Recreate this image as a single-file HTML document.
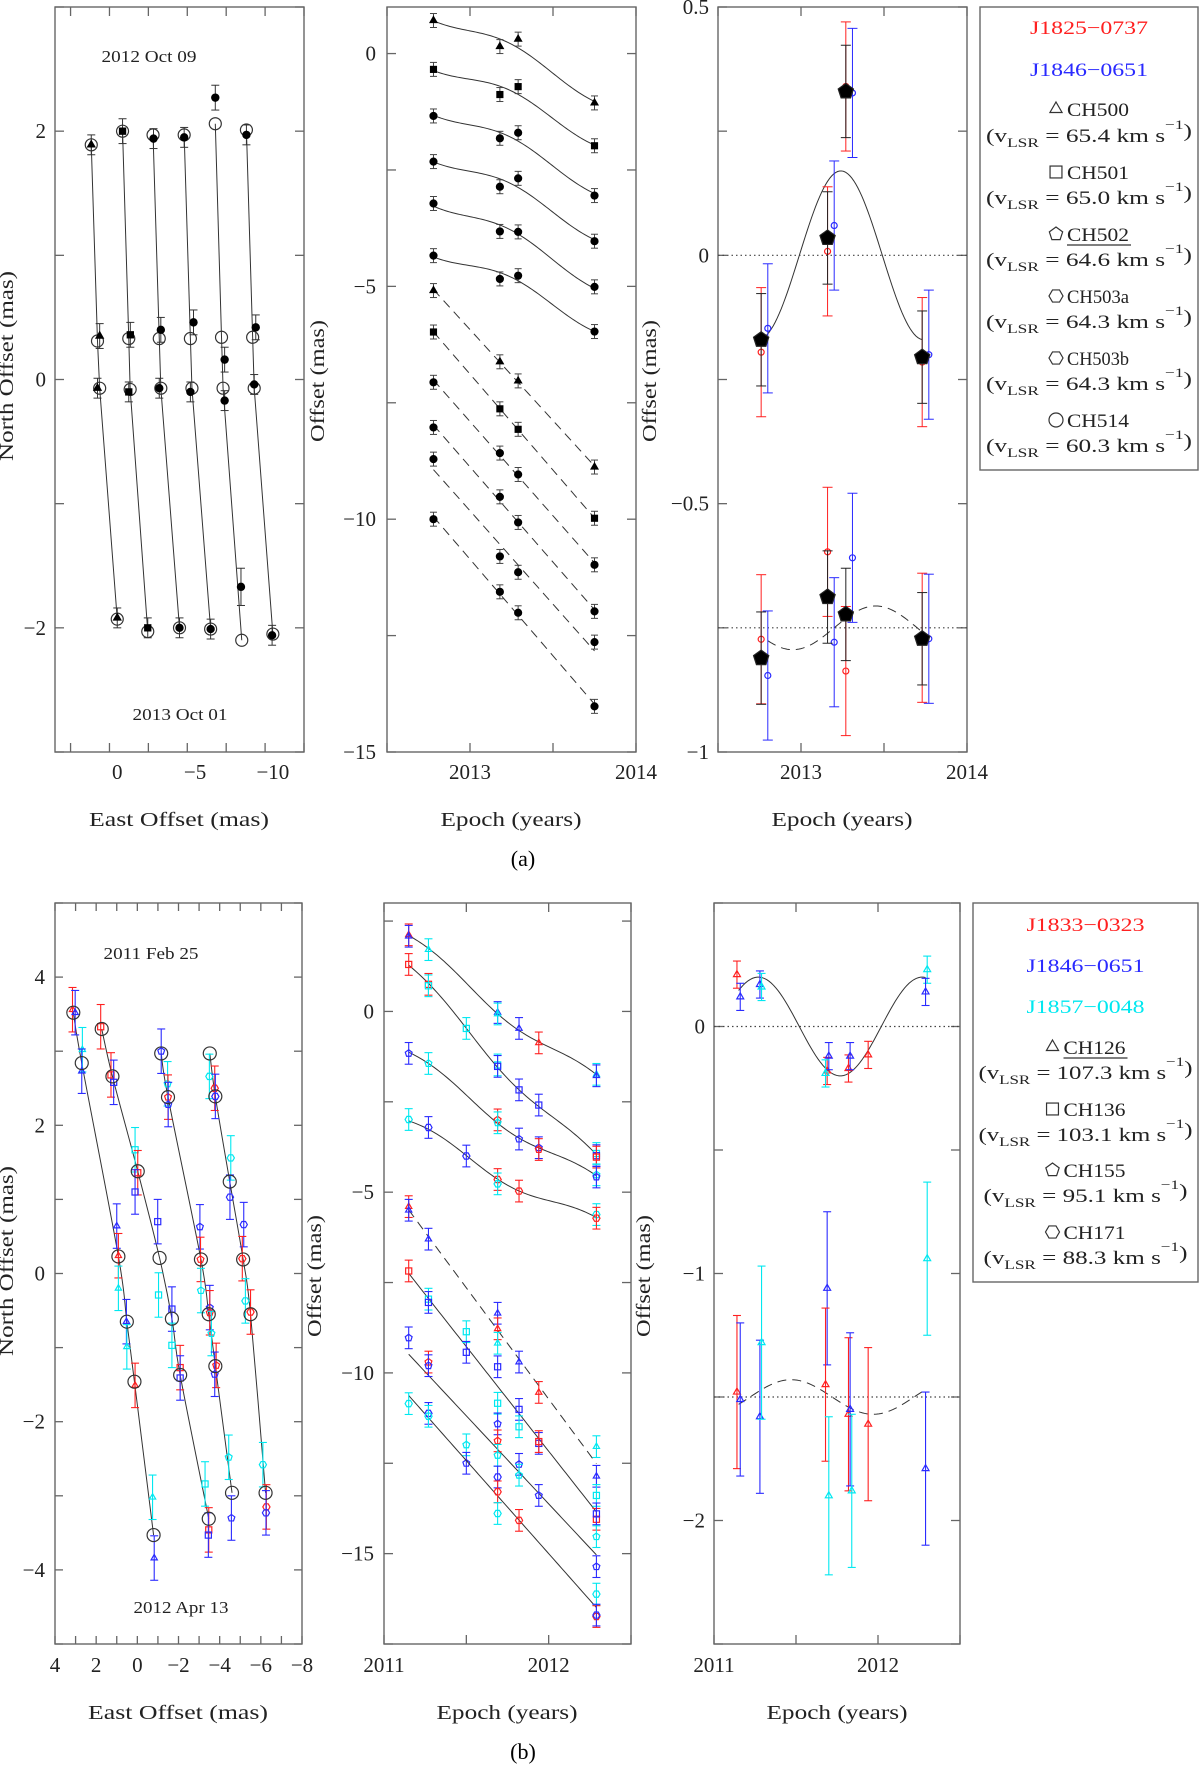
<!DOCTYPE html>
<html><head><meta charset="utf-8"><style>
html,body{margin:0;padding:0;background:#fff;}
svg{display:block;font-family:"Liberation Serif","DejaVu Serif",serif;}
</style></head><body>
<svg id="fig" width="1200" height="1773" viewBox="0 0 1200 1773" xmlns="http://www.w3.org/2000/svg"></svg>
<script>
// ---------------- DATA: top (a) panel 1 (sky positions) ----------------
const a1ModelX=[[1.67,1.27,1.13,0],[-0.34,-0.74,-0.83,-1.96],[-2.3,-2.7,-2.8,-4.0],[-4.3,-4.7,-4.8,-6.0],[-6.3,-6.7,-6.8,-8.0],[-8.3,-8.7,-8.8,-10.0]];
const a1ModelY=[[1.89,0.31,-0.07,-1.93],[2.0,0.33,-0.08,-2.03],[1.97,0.33,-0.07,-2.0],[1.97,0.33,-0.07,-2.01],[2.06,0.34,-0.07,-2.1],[2.01,0.34,-0.07,-2.05]];
const a1DataX=[[1.67,1.13,1.27,0.0],[-0.34,-0.84,-0.74,-1.96],[-2.33,-2.8,-2.7,-4.0],[-4.3,-4.9,-4.7,-6.0],[-6.3,-6.9,-6.9,-7.95],[-8.3,-8.9,-8.8,-9.95]];
const a1DataY=[[1.89,0.35,-0.07,-1.92],[2.0,0.36,-0.1,-2.0],[1.94,0.40,-0.07,-2.0],[1.95,0.46,-0.1,-2.01],[2.27,0.16,-0.17,-1.67],[1.97,0.42,-0.04,-2.06]];
const a1Err=[[0.08,0.1,0.08,0.08],[0.1,0.1,0.08,0.08],[0.08,0.1,0.08,0.08],[0.08,0.1,0.08,0.08],[0.1,0.1,0.08,0.15],[0.08,0.1,0.08,0.08]];
const a1Shape=["tri","sq","circ","circ","circ","circ"];
// ---------------- top panel 2 ----------------
const a2Epochs=[2012.78,2013.18,2013.29,2013.75];
const a2Vals=[[0.71,0.15,0.31,-1.06],[-0.34,-0.88,-0.71,-1.98],[-1.34,-1.82,-1.70,-3.05],[-2.32,-2.86,-2.68,-4.03],[-3.22,-3.82,-3.83,-5.01],[-4.34,-4.84,-4.77,-5.97],
 [-5.09,-6.62,-7.03,-8.88],[-5.98,-7.63,-8.07,-9.98],[-7.06,-8.58,-9.04,-10.98],[-8.03,-9.52,-10.07,-11.98],[-8.71,-10.80,-11.14,-12.64],[-10.0,-11.56,-12.01,-14.02]];
const a2Shape=["tri","sq","circ","circ","circ","circ","tri","sq","circ","circ","circ","circ"];
const a2Solid=[1,1,1,1,1,1,0,0,0,0,0,0];
// ---------------- top panel 3 (residuals) ----------------
const a3Epochs=[2012.76,2013.16,2013.27,2013.73];
const a3BlackUp=[-0.17,0.035,0.33,-0.205];
const a3RedUp=[-0.195,0.008,0.34,-0.215];
const a3BlueUp=[-0.147,0.06,0.327,-0.2];
const a3BlackLo=[-0.811,-0.688,-0.723,-0.772];
const a3RedLo=[-0.773,-0.597,-0.837,-0.77];
const a3BlueLo=[-0.846,-0.779,-0.609,-0.772];
const a3ErrBlack=0.093, a3ErrColor=0.13;
const a3ParAmp=0.17, a3ParPeak=2013.24;
const a3LoBase=-0.75, a3LoAmp=0.044, a3LoPeak=2013.45;
// ---------------- bottom (b) panel 1 ----------------
const b1ModelX=[[3.11,2.70,0.92,0.51,0.14,-0.79],[1.73,1.21,-0.02,-1.08,-1.68,-2.08,-3.47],[-1.16,-1.49,-3.09,-3.47,-3.79,-4.6],[-3.52,-3.79,-4.49,-5.14,-5.5,-6.23]];
const b1ModelY=[[3.52,2.84,0.23,-0.65,-1.46,-3.53],[3.30,2.66,1.38,0.21,-0.61,-1.37,-3.31],[2.97,2.38,0.19,-0.55,-1.25,-2.96],[2.97,2.39,1.24,0.19,-0.55,-2.96]];
const b1DataX=[[3.15,3.02,2.67,2.70,1.0,0.92,0.92,0.53,0.51,0.11,-0.74,-0.82],[1.78,1.28,1.15,0.11,-0.02,0.11,-0.99,-1.03,-1.68,-1.68,-2.08,-2.08,-3.29,-3.47,-3.45],[-1.16,-1.47,-1.49,-1.5,-3.04,-3.07,-3.09,-3.52,-3.52,-3.6,-3.83,-3.76,-4.44,-4.57],[-3.5,-3.76,-3.79,-4.54,-4.5,-5.17,-5.1,-5.25,-5.5,-6.1,-6.27,-6.25]];
const b1DataY=[[3.56,3.52,3.02,2.73,0.64,0.24,-0.2,-0.65,-0.99,-1.51,-3.02,-3.84],[3.33,2.68,2.58,1.67,1.36,1.10,0.70,-0.29,-0.48,-0.97,-1.27,-1.41,-2.84,-3.46,-3.53],[3.00,2.56,2.38,2.28,0.63,0.19,-0.23,-0.46,-0.53,-0.81,-1.24,-1.36,-2.48,-3.30],[2.66,2.5,2.39,1.56,1.03,0.66,0.2,-0.37,-0.52,-2.58,-3.15,-3.23]];
const b1DataC=[["r","b","c","b","b","r","c","b","c","r","c","b"],["r","r","b","c","r","b","b","c","b","c","r","b","c","r","b"],["b","c","r","b","b","r","c","b","r","c","r","b","c","b"],["c","r","b","c","b","b","r","c","r","c","r","b"]];
const b1Shape=["tri","sq","pent","hex"];
// ---------------- bottom panel 2 ----------------
const b2E=[[2011.15,2011.15,2011.27,2011.69,2011.69,2011.82,2011.94,2012.29,2012.29],
 [2011.15,2011.27,2011.27,2011.5,2011.69,2011.69,2011.82,2011.94,2012.29,2012.29,2012.29],
 [2011.15,2011.27,2011.69,2011.69,2011.82,2011.94,2011.94,2012.29,2012.29],
 [2011.15,2011.27,2011.5,2011.69,2011.69,2011.82,2012.29,2012.29],
 [2011.15,2011.15,2011.27,2011.69,2011.69,2011.69,2011.82,2011.94,2012.29,2012.29],
 [2011.15,2011.27,2011.27,2011.5,2011.5,2011.69,2011.69,2011.82,2011.82,2011.94,2011.94,2012.29,2012.29,2012.29],
 [2011.15,2011.27,2011.27,2011.5,2011.5,2011.69,2011.69,2011.69,2011.82,2011.82,2011.94,2012.29,2012.29],
 [2011.15,2011.27,2011.27,2011.69,2011.69,2011.69,2011.82,2012.29,2012.29,2012.29]];
const b2V=[[2.12,2.08,1.71,-0.03,-0.07,-0.47,-0.87,-1.74,-1.78],
 [1.30,0.75,0.71,-0.47,-1.48,-1.52,-2.17,-2.59,-3.93,-3.99,-4.03],
 [-1.16,-1.44,-3.0,-3.08,-3.53,-3.77,-3.82,-4.52,-4.58],
 [-2.99,-3.21,-4.0,-4.65,-4.77,-4.97,-5.62,-5.72],
 [-5.4,-5.5,-6.3,-8.35,-8.78,-9.18,-9.70,-10.54,-12.04,-12.86],
 [-7.18,-7.96,-8.05,-8.86,-9.43,-9.83,-10.84,-11.01,-11.49,-11.95,-11.9,-13.39,-14.05,-13.9],
 [-9.03,-9.7,-9.8,-11.99,-12.5,-11.41,-11.88,-12.28,-12.53,-12.83,-13.39,-14.53,-15.36],
 [-10.85,-11.12,-11.2,-12.88,-13.29,-13.89,-14.08,-16.12,-16.74,-16.7]];
const b2C=[["r","b","c","b","c","b","r","c","b"],
 ["r","r","c","c","c","b","b","b","c","b","r"],
 ["b","c","r","c","b","b","r","c","b"],
 ["c","b","b","r","c","r","c","r"],
 ["r","b","b","b","r","c","b","r","c","b"],
 ["r","c","b","c","b","b","c","b","c","b","r","c","r","b"],
 ["b","r","b","c","b","b","r","c","b","c","b","c","b"],
 ["c","b","c","b","r","c","r","c","r","b"]];
const b2Shape=["tri","sq","pent","hex","tri","sq","pent","hex"];
const b2Style=["par","par","par","par","dash","lin","lin","lin"];
const b2ParAmp=0.2, b2ParPeak=2011.27;
// ---------------- bottom panel 3 ----------------
const b3UpE=[2011.14,2011.16,2011.28,2011.29,2011.69,2011.70,2011.68,2011.82,2011.83,2011.94,2012.30,2012.29];
const b3UpV=[0.21,0.12,0.17,0.16,-0.18,-0.12,-0.19,-0.17,-0.12,-0.115,0.23,0.14];
const b3UpC=["r","b","b","c","r","b","c","r","b","r","c","b"];
const b3LoE=[2011.14,2011.16,2011.28,2011.29,2011.69,2011.68,2011.70,2011.82,2011.83,2011.84,2011.94,2012.30,2012.29];
const b3LoV=[-1.48,-1.51,-1.58,-1.28,-1.06,-1.45,-1.90,-1.57,-1.55,-1.88,-1.61,-0.94,-1.79];
const b3LoErr=[0.31,0.31,0.31,0.31,0.31,0.31,0.32,0.31,0.31,0.31,0.31,0.31,0.31];
const b3LoC=["r","b","b","c","b","r","c","r","b","c","r","c","b"];
const b3ParAmp=0.2, b3ParPeak=2011.27, b3LoBase=-1.5, b3LoAmp=0.07, b3LoPeak=2011.47;

// ---------------- helpers ----------------
const NS="http://www.w3.org/2000/svg";
const svg=document.getElementById("fig");
const COL={r:"#ff2020",b:"#2a2aff",c:"#00e8f0",k:"#000"};
const AX="#666";
function mk(tag,attrs,name,parent){
  const el=document.createElementNS(NS,tag);
  for(const k in attrs) el.setAttribute(k,attrs[k]);
  
  
  (parent||svg).appendChild(el);return el;
}
function txt(x,y,s,size,name,opts){
  opts=opts||{};
  const t=mk("text",{x:x,y:y,"font-size":size,fill:opts.fill||"#222","text-anchor":opts.anchor||"middle"},name,opts.parent);
  if(opts.len){t.setAttribute("textLength",opts.len);t.setAttribute("lengthAdjust","spacingAndGlyphs");}
  if(opts.rot) t.setAttribute("transform","rotate(-90 "+x+" "+y+")");
  t.textContent=s;return t;
}
function panel(name,x0,y0,x1,y1,xd,yd){
  const g=mk("g",{},name);
  const p={g,x0,y0,x1,y1,
    sx:v=>x0+(v-xd[0])/(xd[1]-xd[0])*(x1-x0),
    sy:v=>y0+(v-yd[0])/(yd[1]-yd[0])*(y1-y0)};
  mk("rect",{x:x0,y:y0,width:x1-x0,height:y1-y0,fill:"none",stroke:AX,"stroke-width":1.4},"plot-frame",g);
  return p;
}
function ticks(p,axis,lo,hi,step,len){
  const n=Math.round((hi-lo)/step);
  for(let i=0;i<=n;i++){
    const v=lo+i*step;
    if(axis==="x"){const x=p.sx(v); if(x<p.x0-0.5||x>p.x1+0.5) continue;
      mk("line",{x1:x,y1:p.y1,x2:x,y2:p.y1-len,stroke:AX,"stroke-width":1.3},"x-tick",p.g);
      mk("line",{x1:x,y1:p.y0,x2:x,y2:p.y0+len,stroke:AX,"stroke-width":1.3},"x-tick-top",p.g);}
    else{const y=p.sy(v); if(y<p.y0-0.5||y>p.y1+0.5) continue;
      mk("line",{x1:p.x0,y1:y,x2:p.x0+len,y2:y,stroke:AX,"stroke-width":1.3},"y-tick",p.g);
      mk("line",{x1:p.x1,y1:y,x2:p.x1-len,y2:y,stroke:AX,"stroke-width":1.3},"y-tick-right",p.g);}
  }
}
function lab(v){return (v<0?"\u2212":"")+String(Math.abs(v));}
function xLabels(p,vals,y){vals.forEach(v=>txt(p.sx(v),y,lab(v),21,"x-tick-label",{parent:p.g}));}
function yLabels(p,vals,xr){vals.forEach(v=>txt(xr,p.sy(v)+7,lab(v),21,"y-tick-label",{parent:p.g,anchor:"end"}));}
function marker(g,shape,cx,cy,r,fill,stroke,name){
  if(shape==="circ") return mk("circle",{cx,cy,r,fill,stroke,"stroke-width":1.2},name,g);
  if(shape==="sq") return mk("rect",{x:cx-r*0.85,y:cy-r*0.85,width:r*1.7,height:r*1.7,fill,stroke,"stroke-width":1.2},name,g);
  const n=shape==="tri"?3:shape==="pent"?5:6, a0=shape==="hex"?0:-Math.PI/2;
  const pts=[];for(let i=0;i<n;i++){const a=a0+i*2*Math.PI/n;pts.push((cx+r*Math.cos(a)).toFixed(2)+","+(cy+r*Math.sin(a)).toFixed(2));}
  return mk("polygon",{points:pts.join(" "),fill,stroke,"stroke-width":1.2},name,g);
}
function ebar(g,x,ya,yb,cap,col,w){
  mk("line",{x1:x,y1:ya,x2:x,y2:yb,stroke:col,"stroke-width":w||1.2},"error-bar",g);
  mk("line",{x1:x-cap,y1:ya,x2:x+cap,y2:ya,stroke:col,"stroke-width":w||1.2},"error-cap",g);
  mk("line",{x1:x-cap,y1:yb,x2:x+cap,y2:yb,stroke:col,"stroke-width":w||1.2},"error-cap",g);
}
function crPath(pts){
  let d="M"+pts[0][0].toFixed(2)+","+pts[0][1].toFixed(2);
  for(let i=0;i<pts.length-1;i++){
    const p0=pts[i-1]||pts[i],p1=pts[i],p2=pts[i+1],p3=pts[i+2]||p2;
    const c1=[p1[0]+(p2[0]-p0[0])/6,p1[1]+(p2[1]-p0[1])/6],c2=[p2[0]-(p3[0]-p1[0])/6,p2[1]-(p3[1]-p1[1])/6];
    d+=" C"+c1.map(v=>v.toFixed(2)).join(",")+" "+c2.map(v=>v.toFixed(2)).join(",")+" "+p2[0].toFixed(2)+","+p2[1].toFixed(2);
  }
  return d;
}
function fitLine(ts,vs,par){
  const n=ts.length;let st=0,sv=0,stt=0,stv=0;
  for(let i=0;i<n;i++){const t=ts[i],v=vs[i]-(par?par(t):0);st+=t;sv+=v;stt+=t*t;stv+=t*v;}
  const b=(n*stv-st*sv)/(n*stt-st*st),a=(sv-b*st)/n;return t=>a+b*t;
}
function curvePath(p,f,t0,t1){
  let d="";for(let i=0;i<=80;i++){const t=t0+(t1-t0)*i/80;d+=(i?"L":"M")+p.sx(t).toFixed(2)+","+p.sy(f(t)).toFixed(2);}return d;
}

// ================= (a) TOP =================
// Panel a1
const A1=panel("sky-plot-a",55,7,304,752,[4,-12],[3,-3]);
ticks(A1,"x",-12,4,2.5,9);ticks(A1,"y",-3,3,1,9);
xLabels(A1,[0,-5,-10],779);yLabels(A1,[2,0,-2],46);
txt(149,62,"2012 Oct 09",17,"epoch-start-label",{parent:A1.g,len:95});
txt(180,720,"2013 Oct 01",17,"epoch-end-label",{parent:A1.g,len:95});
a1ModelX.forEach((xs,i)=>{
  const pts=xs.map((x,j)=>[A1.sx(x),A1.sy(a1ModelY[i][j])]);
  mk("polyline",{points:pts.map(q=>q.join(",")).join(" "),fill:"none",stroke:"#333","stroke-width":1},"track-line",A1.g);
  pts.forEach(q=>marker(A1.g,"circ",q[0],q[1],6,"none","#333","model-position"));
  a1DataX[i].forEach((x,j)=>{
    const cx=A1.sx(x),y=a1DataY[i][j],e=a1Err[i][j];
    ebar(A1.g,cx,A1.sy(y+e),A1.sy(y-e),4,"#333",1);
    marker(A1.g,a1Shape[i],cx,A1.sy(y),a1Shape[i]==="tri"?4.2:3.6,"#000","#000","maser-spot");
  });
});
txt(13,366,"North Offset (mas)",20,"y-axis-title",{rot:1,len:190});
txt(179,826,"East Offset (mas)",20,"x-axis-title",{len:180});

// Panel a2
const A2=panel("epoch-plot-a",387,7,636,752,[2012.5,2014],[1,-15]);
ticks(A2,"x",2012.5,2014,0.5,9);ticks(A2,"y",-15,1,2.5,9);
xLabels(A2,[2013,2014],779);yLabels(A2,[0,-5,-10,-15],376);
const parA=t=>a3ParAmp*Math.cos(2*Math.PI*(t-a3ParPeak));
a2Vals.forEach((vs,i)=>{
  const f=a2Solid[i]?(()=>{const L=fitLine(a2Epochs,vs,parA);return t=>L(t)+parA(t);})():fitLine(a2Epochs,vs,null);
  const path=mk("path",{d:curvePath(A2,f,a2Epochs[0],a2Epochs[3]),fill:"none",stroke:"#333","stroke-width":1},a2Solid[i]?"model-curve":"model-line-dashed",A2.g);
  if(!a2Solid[i]) path.setAttribute("stroke-dasharray","9,6");
  vs.forEach((v,j)=>{
    const cx=A2.sx(a2Epochs[j]);
    ebar(A2.g,cx,A2.sy(v+0.15),A2.sy(v-0.15),3.5,"#444",1);
    marker(A2.g,a2Shape[i],cx,A2.sy(v),a2Shape[i]==="tri"?4:3.5,"#000","#000","spot-offset");
  });
});
txt(324,381,"Offset (mas)",20,"y-axis-title",{rot:1,len:122});
txt(511,826,"Epoch (years)",20,"x-axis-title",{len:141});

// Panel a3
const A3=panel("residual-plot-a",718,7,967,752,[2012.5,2014],[0.5,-1]);
ticks(A3,"x",2012.5,2014,0.5,9);ticks(A3,"y",-1,0.5,0.25,9);
xLabels(A3,[2013,2014],779);yLabels(A3,[0.5,0,-0.5,-1],709);
mk("line",{x1:718,x2:967,y1:A3.sy(0),y2:A3.sy(0),stroke:"#444","stroke-dasharray":"1.5,3","stroke-width":1.2},"zero-line",A3.g);
mk("line",{x1:718,x2:967,y1:A3.sy(a3LoBase),y2:A3.sy(a3LoBase),stroke:"#444","stroke-dasharray":"1.5,3","stroke-width":1.2},"offset-zero-line",A3.g);
mk("path",{d:curvePath(A3,parA,2012.76,2013.73),fill:"none",stroke:"#333","stroke-width":1},"parallax-curve",A3.g);
const lo=mk("path",{d:curvePath(A3,t=>a3LoBase+a3LoAmp*Math.cos(2*Math.PI*(t-a3LoPeak)),2012.8,2013.73),fill:"none",stroke:"#333","stroke-width":1,"stroke-dasharray":"9,6"},"parallax-curve-dashed",A3.g);
function a3Group(vals,col,dt,err,shape,r,fill){
  vals.forEach((v,j)=>{const cx=A3.sx(a3Epochs[j]+dt);
    ebar(A3.g,cx,A3.sy(v+err),A3.sy(v-err),5,col,1);
    marker(A3.g,shape,cx,A3.sy(v),r,fill,col,"residual-point");});
}
a3Group(a3RedUp,COL.r,0,a3ErrColor,"circ",3,"none");
a3Group(a3BlueUp,COL.b,0.04,a3ErrColor,"circ",3,"none");
a3Group(a3BlackUp,"#222",0,a3ErrBlack,"pent",8,"#000");
a3Group(a3RedLo,COL.r,0,a3ErrColor,"circ",3,"none");
a3Group(a3BlueLo,COL.b,0.04,a3ErrColor,"circ",3,"none");
a3Group(a3BlackLo,"#222",0,a3ErrBlack,"pent",8,"#000");
txt(656,381,"Offset (mas)",20,"y-axis-title",{rot:1,len:122});
txt(842,826,"Epoch (years)",20,"x-axis-title",{len:141});
txt(523,866,"(a)",22,"subfigure-label-a",{fill:"#000"});

// ================= (b) BOTTOM =================
const B1=panel("sky-plot-b",55,903,302,1644,[4,-8],[5,-5]);
ticks(B1,"x",-8,4,1,8);ticks(B1,"y",-5,5,1,8);
xLabels(B1,[4,2,0,-2,-4,-6,-8],1672);yLabels(B1,[4,2,0,-2,-4],45);
txt(151,959,"2011 Feb 25",17,"epoch-start-label",{parent:B1.g,len:95});
txt(181,1613,"2012 Apr 13",17,"epoch-end-label",{parent:B1.g,len:95});
b1ModelX.forEach((xs,i)=>{
  const pts=xs.map((x,j)=>[B1.sx(x),B1.sy(b1ModelY[i][j])]);
  mk("path",{d:crPath(pts),fill:"none",stroke:"#333","stroke-width":1},"track-curve",B1.g);
  b1DataX[i].forEach((x,j)=>{
    const cx=B1.sx(x),y=b1DataY[i][j],c=COL[b1DataC[i][j]];
    ebar(B1.g,cx,B1.sy(y+0.3),B1.sy(y-0.3),4,c,1.1);
    marker(B1.g,b1Shape[i],cx,B1.sy(y),3.6,"none",c,"maser-spot");
  });
  pts.forEach(q=>marker(B1.g,"circ",q[0],q[1],6.5,"none","#333","model-position"));
});
txt(13,1261,"North Offset (mas)",20,"y-axis-title",{rot:1,len:190});
txt(178,1719,"East Offset (mas)",20,"x-axis-title",{len:180});

const B2=panel("epoch-plot-b",384,903,631,1644,[2011,2012.5],[3,-17.5]);
ticks(B2,"x",2011,2012.5,0.5,9);ticks(B2,"y",-17.5,3,2.5,9);
xLabels(B2,[2011,2012],1672);yLabels(B2,[0,-5,-10,-15],374);
const parB=t=>b2ParAmp*Math.cos(2*Math.PI*(t-b2ParPeak));
b2V.forEach((vs,i)=>{
  const es=b2E[i];let f;
  if(b2Style[i]==="par"){const L=fitLine(es,vs,parB);f=t=>L(t)+parB(t);}else f=fitLine(es,vs,null);
  const path=mk("path",{d:curvePath(B2,f,2011.15,2012.29),fill:"none",stroke:"#333","stroke-width":1},"model-curve",B2.g);
  if(b2Style[i]==="dash") path.setAttribute("stroke-dasharray","9,6");
  vs.forEach((v,j)=>{
    const cx=B2.sx(es[j]),c=COL[b2C[i][j]];
    ebar(B2.g,cx,B2.sy(v+0.3),B2.sy(v-0.3),4,c,1.1);
    marker(B2.g,b2Shape[i],cx,B2.sy(v),3.6,"none",c,"spot-offset");
  });
});
txt(321,1276,"Offset (mas)",20,"y-axis-title",{rot:1,len:122});
txt(507,1719,"Epoch (years)",20,"x-axis-title",{len:141});

const B3=panel("residual-plot-b",714,903,960,1644,[2011,2012.5],[0.5,-2.5]);
ticks(B3,"x",2011,2012.5,0.5,9);ticks(B3,"y",-2.5,0.5,0.5,9);
xLabels(B3,[2011,2012],1672);yLabels(B3,[0,-1,-2],705);
mk("line",{x1:714,x2:960,y1:B3.sy(0),y2:B3.sy(0),stroke:"#444","stroke-dasharray":"1.5,3","stroke-width":1.2},"zero-line",B3.g);
mk("line",{x1:714,x2:960,y1:B3.sy(b3LoBase),y2:B3.sy(b3LoBase),stroke:"#444","stroke-dasharray":"1.5,3","stroke-width":1.2},"offset-zero-line",B3.g);
mk("path",{d:curvePath(B3,t=>b3ParAmp*Math.cos(2*Math.PI*(t-b3ParPeak)),2011.15,2012.29),fill:"none",stroke:"#333","stroke-width":1},"parallax-curve",B3.g);
mk("path",{d:curvePath(B3,t=>b3LoBase+b3LoAmp*Math.cos(2*Math.PI*(t-b3LoPeak)),2011.15,2012.29),fill:"none",stroke:"#333","stroke-width":1,"stroke-dasharray":"9,6"},"parallax-curve-dashed",B3.g);
b3UpE.forEach((t,j)=>{const cx=B3.sx(t),v=b3UpV[j],c=COL[b3UpC[j]];
  ebar(B3.g,cx,B3.sy(v+0.055),B3.sy(v-0.055),4,c,1.1);marker(B3.g,"tri",cx,B3.sy(v),4,"none",c,"residual-point");});
b3LoE.forEach((t,j)=>{const cx=B3.sx(t),v=b3LoV[j],c=COL[b3LoC[j]],e=b3LoErr[j];
  ebar(B3.g,cx,B3.sy(v+e),B3.sy(v-e),4,c,1.1);marker(B3.g,"tri",cx,B3.sy(v),4,"none",c,"residual-point");});
txt(650,1276,"Offset (mas)",20,"y-axis-title",{rot:1,len:122});
txt(837,1719,"Epoch (years)",20,"x-axis-title",{len:141});
txt(523,1759,"(b)",22,"subfigure-label-b",{fill:"#000"});

// ================= LEGENDS =================
function vlsr(g,cx,cy,val,len){
  const t=mk("text",{x:cx,y:cy+7,"font-size":19,fill:"#222","text-anchor":"middle",textLength:len,lengthAdjust:"spacingAndGlyphs"},"vlsr-label",g);
  const parts=[["(v",0],["LSR",1],[" =  "+val+"  km  s",0],["\u22121",2],[")",0]];
  parts.forEach(p=>{const s=document.createElementNS(NS,"tspan");s.textContent=p[0];
    if(p[1]===1){s.setAttribute("font-size","13");s.setAttribute("dy","5");}
    if(p[1]===2){s.setAttribute("font-size","13");s.setAttribute("dy","-13");}
    if(p[0]===" =  "+val+"  km  s"){s.setAttribute("dy","-5");}
    if(p[0]===")"){s.setAttribute("dy","8");}
    t.appendChild(s);});
}
function legend(name,x0,y0,x1,y1,srcs,chans){
  const g=mk("g",{},name);
  mk("rect",{x:x0,y:y0,width:x1-x0,height:y1-y0,fill:"#fff",stroke:AX,"stroke-width":1.4},"legend-box",g);
  const cx=(x0+x1)/2;
  srcs.forEach(s=>txt(cx,s[1]+7,s[0],19,"legend-source",{parent:g,fill:COL[s[2]],len:118}));
  chans.forEach(c=>{
    txt(cx+9,c.y+7,c.name,19,"legend-channel",{parent:g,len:62});
    marker(g,c.shape,cx-33,c.y,7,"none","#333","legend-symbol");
    if(c.ul) mk("line",{x1:cx-22,x2:cx+42,y1:c.y+11,y2:c.y+11,stroke:"#333","stroke-width":1.2},"legend-underline",g);
    vlsr(g,cx,c.vy,c.v,c.len);
  });
}
legend("legend-a",980,7,1198,470,[["J1825\u22120737",27,"r"],["J1846\u22120651",69,"b"]],[
 {name:"CH500",shape:"tri",y:109,vy:135,v:"65.4",len:206},
 {name:"CH501",shape:"sq",y:172,vy:197,v:"65.0",len:206},
 {name:"CH502",shape:"pent",y:234,vy:259,v:"64.6",len:206,ul:1},
 {name:"CH503a",shape:"hex",y:296,vy:321,v:"64.3",len:206},
 {name:"CH503b",shape:"hex",y:358,vy:383,v:"64.3",len:206},
 {name:"CH514",shape:"circ",y:420,vy:445,v:"60.3",len:206}]);
legend("legend-b",973,903,1198,1282,[["J1833\u22120323",924,"r"],["J1846\u22120651",965,"b"],["J1857\u22120048",1006,"c"]],[
 {name:"CH126",shape:"tri",y:1047,vy:1072,v:"107.3",len:214,ul:1},
 {name:"CH136",shape:"sq",y:1109,vy:1134,v:"103.1",len:214},
 {name:"CH155",shape:"pent",y:1170,vy:1195,v:"95.1",len:204},
 {name:"CH171",shape:"hex",y:1232,vy:1257,v:"88.3",len:204}]);
</script>
</body></html>
